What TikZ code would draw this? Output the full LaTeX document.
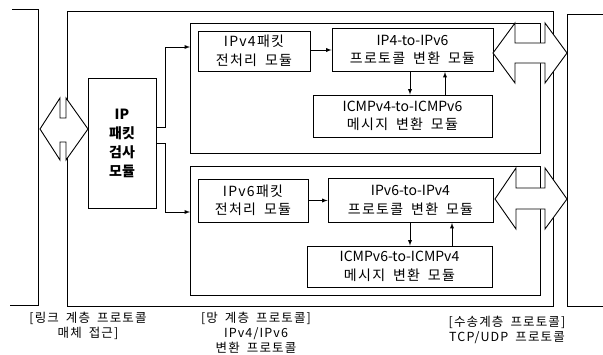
\documentclass[tikz,border=0pt]{standalone}
\usepackage{fontspec}
\setmainfont{Noto Sans CJK KR}[WordSpace=1.8]
\newfontfamily\hg{Noto Sans CJK KR}[LetterSpace=9,WordSpace=1.8]

\tikzset{
  thinline/.style={line width=.9pt},
  grpbox/.style={draw,thinline,inner sep=0pt},
  modbox/.style={draw,thinline,fill=white,inner sep=0pt,align=center,
    font=\fontsize{14}{18.5}\selectfont},
  biarrow/.style={draw,thinline,fill=white,line join=miter},
  conn/.style={thinline,-latex},
  caption/.style={inner sep=0pt,align=center,font=\hg\fontsize{12.5}{15}\selectfont}
}

\begin{document}
\begin{tikzpicture}[x=1pt,y=-1pt]
  \useasboundingbox (0,0) rectangle (603,354);
  % layers
  \draw[thinline] (12,9) -- (38,9) -- (38,305) -- (10,305);
  \draw[thinline] (67,11) rectangle (553,306);
  \draw[thinline] (610,14) -- (567,14) -- (567,306) -- (610,306);
  % translation groups
  \node[grpbox,minimum width=350,minimum height=130] (v4grp) at (365,88) {};
  \node[grpbox,minimum width=350,minimum height=129] (v6grp) at (365,230.5) {};
  \coordinate (v4in) at (190,47);
  \coordinate (v6in) at (190,212);
  % IP packet check
  \node[modbox,font=\fontsize{14}{19}\selectfont\bfseries,
    minimum width=68,minimum height=130] (check) at (122,143)
    {IP\\패킷\\검사\\모듈};
  % IPv4 side
  \node[modbox,minimum width=112,minimum height=40] (v4pre) at (254,51)
    {{\hg IPv4패킷}\\{\hg 전처리 모듈}};
  \node[modbox,minimum width=161,minimum height=43] (v4proto) at (412.5,50)
    {IP4-to-IPv6\\{\hg 프로토콜 변환 모듈}};
  \node[modbox,minimum width=179,minimum height=42] (v4icmp) at (402.5,116)
    {ICMPv4-to-ICMPv6\\{\hg 메시지 변환 모듈}};
  % IPv6 side
  \node[modbox,minimum width=110,minimum height=43] (v6pre) at (253,200.5)
    {{\hg IPv6패킷}\\{\hg 전처리 모듈}};
  \node[modbox,minimum width=165,minimum height=44] (v6proto) at (410.5,200.5)
    {IPv6-to-IPv4\\{\hg 프로토콜 변환 모듈}};
  \node[modbox,minimum width=185,minimum height=41] (v6icmp) at (399.5,266.5)
    {ICMPv6-to-ICMPv4\\{\hg 메시지 변환 모듈}};
  % connectors
  \draw[conn] ([yshift=16pt]check.east) -- ++(9,0) |- (v4in);
  \draw[conn] (check.east) -- ++(9,0) |- (v6in);
  \draw[conn] (v4proto.west -| v4pre.east) -- (v4proto.west);
  \draw[conn] (v6proto.west -| v6pre.east) -- (v6proto.west);
  \draw[conn] ([xshift=-2.5pt]v4proto.south) -- ([xshift=-2.5pt]v4proto.south |- v4icmp.north);
  \draw[conn] ([xshift=42.5pt]v4icmp.north) -- ([xshift=42.5pt]v4icmp.north |- v4proto.south);
  \draw[conn] ([xshift=-0.5pt]v6proto.south) -- ([xshift=-0.5pt]v6proto.south |- v6icmp.north);
  \draw[conn] ([xshift=52.5pt]v6icmp.north) -- ([xshift=52.5pt]v6icmp.north |- v6proto.south);
  % double arrows
  \draw[biarrow] (40,129) -- (60,98) -- (60,118) -- (66,118) -- (66,98)
    -- (88,129) -- (66,160) -- (66,142) -- (60,142) -- (60,160) -- cycle;
  \draw[biarrow] (493,53) -- (515,23) -- (515,43) -- (545,43) -- (545,23)
    -- (567,53) -- (545,83) -- (545,63) -- (515,63) -- (515,83) -- cycle;
  \draw[biarrow] (495,199) -- (516,168) -- (516,188) -- (545,188) -- (545,168)
    -- (567,199) -- (545,229) -- (545,209) -- (516,209) -- (516,229) -- cycle;
  % layer captions
  \node[caption] (linklbl) at (88,326) {[링크 계층 프로토콜\\매체 접근]};
  \node[caption] (netlbl) at (256,333) {[망 계층 프로토콜]\\IPv4/IPv6\\변환 프로토콜};
  \node[caption] (translbl) at (507,329.5) {[수송계층 프로토콜]\\TCP/UDP 프로토콜};
\end{tikzpicture}
\end{document}
